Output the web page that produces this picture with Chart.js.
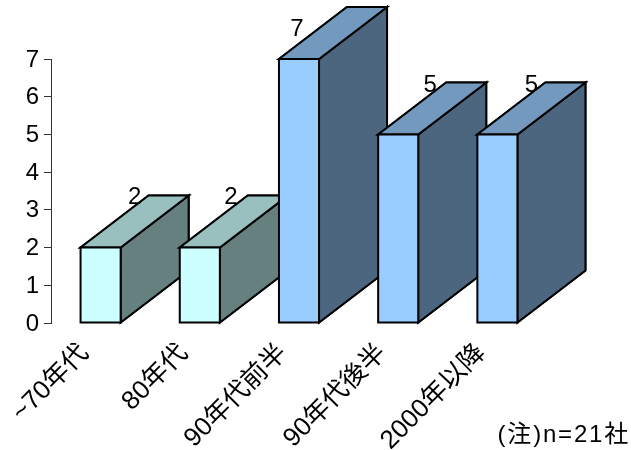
<!DOCTYPE html>
<html>
<head>
<meta charset="utf-8">
<style>
    html, body { margin: 0; padding: 0; background: #fff; }
    canvas { display: block; }
</style>
<script src="https://cdn.jsdelivr.net/npm/chart.js@4/dist/chart.umd.min.js"></script>
</head>
<body>
<canvas id="chart" width="631" height="450"></canvas>
<script>
const categories = ['~70年代', '80年代', '90年代前半', '90年代後半', '2000年以降'];
const companies = [2, 2, 7, 5, 5];
const yTicks = [0, 1, 2, 3, 4, 5, 6, 7];
const footnote = '(注)n=21社';

const fontFamily = '"Liberation Sans", "Noto Sans CJK JP", sans-serif';
const lineColor = '#000';

// front, top and side colours of each block
const frontColors = ['#CCFFFF', '#CCFFFF', '#99CCFF', '#99CCFF', '#99CCFF'];
const topColors = ['#99BFBF', '#99BFBF', '#7399BF', '#7399BF', '#7399BF'];
const sideColors = ['#668080', '#668080', '#4D6680', '#4D6680', '#4D6680'];

// depth of the blocks
const depthX = 68;
const depthY = 52;

// value labels sit on the top face, the third one next to it
const valueLabelOffsets = [[34, -50], [31, -50], [-2, -30], [32, -49], [34, -49]];

function outline(ctx, points) {
    ctx.beginPath();
    points.forEach(([x, y], i) => {
        if (i === 0) ctx.moveTo(x, y);
        else ctx.lineTo(x, y);
    });
    ctx.closePath();
    ctx.lineWidth = 2;
    ctx.lineJoin = 'miter';
    ctx.strokeStyle = lineColor;
    ctx.stroke();
}

function face(ctx, points, color) {
    outline(ctx, points);
    ctx.fillStyle = color;
    ctx.fill();
    ctx.stroke();
}

const blockFaces = {
    id: 'blockFaces',
    beforeDatasetsDraw(chart) {
        const ctx = chart.ctx;
        chart.getDatasetMeta(0).data.forEach((bar, i) => {
            const left = bar.x - bar.width / 2;
            const right = bar.x + bar.width / 2;
            const top = bar.y;
            const bottom = bar.base;
            face(ctx, [[right, top], [right + depthX, top - depthY], [right + depthX, bottom - depthY], [right, bottom]], sideColors[i]);
            face(ctx, [[left, top], [left + depthX, top - depthY], [right + depthX, top - depthY], [right, top]], topColors[i]);
        });
    },
    afterDatasetsDraw(chart) {
        const ctx = chart.ctx;
        // front edges are centred on the bar outline, so they go on after the fills
        chart.getDatasetMeta(0).data.forEach((bar) => {
            const left = bar.x - bar.width / 2;
            const right = bar.x + bar.width / 2;
            outline(ctx, [[left, bar.y], [right, bar.y], [right, bar.base], [left, bar.base]]);
        });
    }
};

const chartTexts = {
    id: 'chartTexts',
    afterDatasetsDraw(chart) {
        const ctx = chart.ctx;
        ctx.save();
        ctx.fillStyle = '#000';
        ctx.font = '24px ' + fontFamily;

        // value labels
        ctx.textAlign = 'center';
        ctx.textBaseline = 'middle';
        chart.getDatasetMeta(0).data.forEach((bar, i) => {
            const [dx, dy] = valueLabelOffsets[i];
            ctx.fillText(String(companies[i]), bar.x + dx, bar.y + dy);
        });

        ctx.letterSpacing = '1.8px';
        ctx.textAlign = 'right';
        ctx.fillText(footnote, 630, 435);
        ctx.restore();
    }
};

new Chart(document.getElementById('chart'), {
    type: 'bar',
    data: {
        labels: categories,
        datasets: [{
            data: companies,
            backgroundColor: frontColors,
            borderWidth: 0,
            barPercentage: 0.404,
            categoryPercentage: 1,
            clip: false
        }]
    },
    options: {
        responsive: false,
        animation: false,
        layout: {
            padding: { top: 59, right: 84, bottom: 0, left: 0 }
        },
        plugins: {
            legend: { display: false },
            tooltip: { enabled: false }
        },
        scales: {
            x: {
                afterFit: (scale) => {
                    scale.height = 127;
                },
                grid: { display: false },
                border: { display: false },
                ticks: {
                    color: '#000',
                    autoSkip: false,
                    minRotation: 45,
                    maxRotation: 45,
                    labelOffset: -16,
                    padding: 7,
                    font: { family: fontFamily, size: 26 }
                }
            },
            y: {
                min: 0,
                max: 7,
                afterBuildTicks: (scale) => {
                    scale.ticks = yTicks.map((value) => ({ value }));
                },
                afterFit: (scale) => {
                    scale.width = 51;
                },
                grid: {
                    drawOnChartArea: false,
                    tickLength: 7,
                    tickColor: '#333',
                    tickWidth: 1
                },
                border: { color: '#333', width: 1 },
                ticks: {
                    color: '#000',
                    padding: 5,
                    labelOffset: 1,
                    font: { family: fontFamily, size: 24 }
                }
            }
        }
    },
    plugins: [blockFaces, chartTexts]
});
</script>
</body>
</html>
